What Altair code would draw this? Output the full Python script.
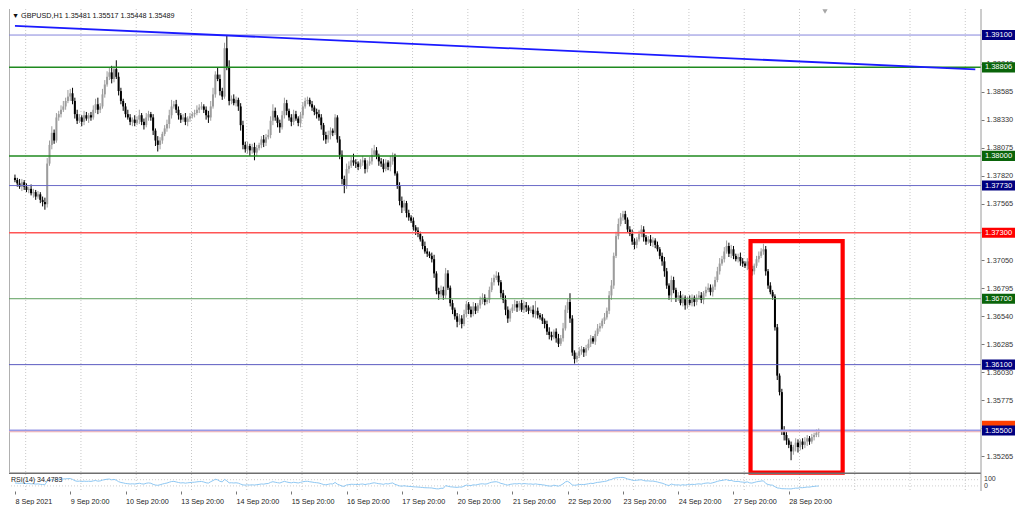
import json
import altair as alt
import pandas as pd

# ---------------- data ----------------
first_open = 1.3780
closes = [
    1.3778, 1.3775, 1.3772, 1.3776, 1.3772, 1.3769, 1.3770, 1.3766, 1.3767, 1.3763,
    1.3765, 1.3760, 1.3758, 1.3756, 1.3793, 1.3810, 1.3821, 1.3814, 1.3835, 1.3838,
    1.3842, 1.3845, 1.3850, 1.3854, 1.3857, 1.3850, 1.3838, 1.3832, 1.3835, 1.3831,
    1.3837, 1.3834, 1.3837, 1.3835, 1.3842, 1.3847, 1.3842, 1.3845, 1.3856, 1.3865,
    1.3872, 1.3876, 1.3870, 1.3879, 1.3872, 1.3859, 1.3850, 1.3845, 1.3838, 1.3835,
    1.3831, 1.3833, 1.3830, 1.3833, 1.3837, 1.3831, 1.3828, 1.3835, 1.3838, 1.3835,
    1.3823, 1.3814, 1.3810, 1.3814, 1.3820, 1.3825, 1.3829, 1.3837, 1.3845, 1.3847,
    1.3842, 1.3837, 1.3833, 1.3835, 1.3831, 1.3834, 1.3836, 1.3838, 1.3839, 1.3842,
    1.3844, 1.3845, 1.3842, 1.3837, 1.3835, 1.3845, 1.3856, 1.3874, 1.3870, 1.3859,
    1.3854, 1.3898, 1.3881, 1.3850, 1.3852, 1.3848, 1.3851, 1.3845, 1.3828, 1.3810,
    1.3806, 1.3809, 1.3805, 1.3808, 1.3803, 1.3807, 1.3810, 1.3815, 1.3812, 1.3817,
    1.3819, 1.3832, 1.3841, 1.3835, 1.3830, 1.3826, 1.3837, 1.3848, 1.3841, 1.3835,
    1.3831, 1.3838, 1.3834, 1.3830, 1.3837, 1.3845, 1.3850, 1.3851, 1.3847, 1.3844,
    1.3840, 1.3838, 1.3835, 1.3828, 1.3819, 1.3815, 1.3819, 1.3823, 1.3821, 1.3835,
    1.3815, 1.3801, 1.3779, 1.3773, 1.3788, 1.3791, 1.3796, 1.3794, 1.3793, 1.3790,
    1.3794, 1.3796, 1.3788, 1.3793, 1.3795, 1.3801, 1.3805, 1.3800, 1.3795, 1.3793,
    1.3788, 1.3794, 1.3790, 1.3795, 1.3799, 1.3784, 1.3773, 1.3759, 1.3753, 1.3757,
    1.3748, 1.3744, 1.3741, 1.3735, 1.3732, 1.3729, 1.3724, 1.3718, 1.3713, 1.3711,
    1.3709, 1.3706, 1.3693, 1.3677, 1.3674, 1.3678, 1.3673, 1.3693, 1.3680, 1.3666,
    1.3660, 1.3654, 1.3649, 1.3652, 1.3647, 1.3656, 1.3665, 1.3660, 1.3656, 1.3663,
    1.3659, 1.3664, 1.3669, 1.3671, 1.3667, 1.3669, 1.3678, 1.3685, 1.3689, 1.3691,
    1.3685, 1.3675, 1.3669, 1.3660, 1.3652, 1.3659, 1.3662, 1.3665, 1.3662, 1.3666,
    1.3660, 1.3664, 1.3662, 1.3659, 1.3660, 1.3656, 1.3659, 1.3655, 1.3653, 1.3650,
    1.3647, 1.3640, 1.3637, 1.3635, 1.3640, 1.3634, 1.3629, 1.3634, 1.3643, 1.3660,
    1.3667, 1.3652, 1.3621, 1.3615, 1.3618, 1.3622, 1.3624, 1.3621, 1.3625, 1.3629,
    1.3634, 1.3631, 1.3638, 1.3643, 1.3645, 1.3650, 1.3653, 1.3659, 1.3673, 1.3682,
    1.3709, 1.3727, 1.3738, 1.3744, 1.3747, 1.3742, 1.3733, 1.3729, 1.3722, 1.3719,
    1.3724, 1.3729, 1.3733, 1.3726, 1.3722, 1.3724, 1.3721, 1.3723, 1.3719, 1.3715,
    1.3709, 1.3704, 1.3695, 1.3682, 1.3673, 1.3687, 1.3678, 1.3671, 1.3673, 1.3666,
    1.3671, 1.3664, 1.3669, 1.3666, 1.3671, 1.3667, 1.3671, 1.3673, 1.3669, 1.3675,
    1.3678, 1.3680, 1.3676, 1.3681, 1.3687, 1.3695, 1.3702, 1.3706, 1.3713, 1.3718,
    1.3711, 1.3715, 1.3709, 1.3706, 1.3708, 1.3704, 1.3702, 1.3700, 1.3704, 1.3697,
    1.3695, 1.3700, 1.3706, 1.3709, 1.3713, 1.3715, 1.3695, 1.3682, 1.3676, 1.3672,
    1.3644, 1.3600, 1.3585, 1.3550, 1.3546, 1.3541, 1.3537, 1.3531, 1.3535, 1.3539,
    1.3535, 1.3540, 1.3537, 1.3540, 1.3543, 1.3540, 1.3544, 1.3546, 1.3548, 1.35489,
]
upper_wick_pips = [
    3, 2, 4, 3, 2, 3, 2, 4, 3, 2,  3, 2, 3, 4, 5, 4, 6, 3, 4, 3,
    4, 5, 3, 6, 4, 5, 3, 4, 3, 2,  4, 3, 2, 3, 4, 5, 6, 3, 5, 4,
    5, 4, 6, 3, 8, 4, 3, 2, 3, 4,  3, 2, 4, 3, 5, 2, 3, 4, 3, 2,
    3, 2, 4, 3, 2, 3, 4, 5, 6, 3,  4, 3, 2, 3, 4, 2, 3, 2, 3, 4,
    3, 4, 2, 3, 4, 5, 6, 3, 6, 4,  3, 5, 12, 6, 3, 4, 3, 2, 3, 4,
    3, 4, 2, 3, 4, 3, 2, 3, 4, 3,  5, 4, 6, 3, 2, 3, 4, 5, 3, 2,
    3, 4, 3, 2, 3, 4, 3, 3, 2, 3,  2, 3, 4, 3, 2, 3, 4, 3, 2, 3,
    2, 3, 4, 3, 5, 4, 3, 6, 3, 2,  3, 4, 2, 3, 4, 6, 5, 3, 2, 3,
    4, 3, 2, 5, 4, 3, 2, 3, 4, 3,  2, 3, 2, 3, 2, 3, 2, 3, 4, 3,
    2, 3, 4, 2, 3, 4, 3, 5, 3, 2,  3, 2, 3, 4, 3, 4, 3, 2, 3, 4,
    3, 2, 3, 4, 3, 2, 3, 4, 3, 4,  3, 2, 3, 4, 3, 2, 3, 4, 3, 2,
    3, 4, 3, 2, 3, 4, 9, 3, 2, 3,  2, 3, 4, 3, 2, 3, 4, 3, 5, 4,
    3, 8, 3, 2, 3, 4, 3, 2, 3, 4,  3, 2, 3, 4, 3, 2, 4, 3, 4, 5,
    3, 4, 5, 4, 3, 3, 2, 3, 4, 3,  2, 3, 4, 3, 2, 3, 4, 3, 2, 3,
    2, 3, 4, 3, 2, 4, 3, 2, 3, 4,  3, 2, 3, 4, 3, 2, 3, 4, 3, 2,
    3, 4, 3, 2, 3, 4, 5, 3, 4, 5,  3, 4, 3, 2, 3, 4, 3, 2, 3, 4,
    3, 2, 3, 4, 3, 5, 3, 2, 3, 2,  2, 3, 2, 3, 4, 3, 2, 3, 2, 4,
    3, 2, 3, 4, 3, 2, 3, 2, 3, 3,
]
lower_wick_pips = [
    2, 3, 2, 4, 3, 2, 3, 2, 4, 3,  2, 3, 4, 5, 3, 2, 4, 3, 2, 3,
    3, 2, 3, 2, 4, 3, 4, 3, 2, 4,  3, 2, 4, 3, 2, 3, 4, 3, 2, 3,
    2, 3, 4, 3, 2, 4, 3, 4, 3, 2,  3, 4, 3, 2, 4, 3, 4, 2, 3, 3,
    4, 5, 6, 4, 3, 2, 3, 4, 3, 2,  3, 4, 3, 2, 3, 4, 3, 2, 3, 2,
    3, 2, 3, 4, 5, 3, 2, 3, 2, 4,  3, 2, 3, 4, 3, 2, 3, 4, 5, 4,
    3, 4, 5, 3, 7, 3, 2, 3, 4, 3,  2, 3, 4, 3, 4, 5, 2, 3, 4, 3,
    4, 3, 2, 3, 4, 3, 2, 3, 2, 3,  3, 4, 3, 4, 5, 4, 3, 4, 3, 2,
    3, 4, 5, 7, 3, 4, 2, 3, 4, 3,  2, 3, 4, 3, 2, 3, 2, 3, 4, 3,
    3, 2, 3, 4, 3, 2, 3, 4, 5, 3,  4, 3, 2, 3, 4, 3, 2, 3, 2, 3,
    2, 3, 4, 3, 5, 3, 4, 3, 2, 3,  4, 3, 5, 3, 4, 2, 3, 4, 3, 2,
    3, 2, 3, 4, 3, 2, 3, 2, 3, 2,  3, 4, 3, 5, 4, 3, 2, 3, 4, 3,
    2, 3, 4, 3, 2, 3, 4, 3, 2, 3,  4, 3, 4, 3, 2, 4, 3, 2, 3, 2,
    3, 4, 3, 4, 3, 2, 3, 4, 3, 2,  3, 2, 3, 2, 3, 2, 3, 2, 3, 4,
    3, 2, 3, 2, 3, 4, 3, 2, 3, 4,  3, 2, 3, 4, 3, 2, 3, 4, 3, 2,
    3, 4, 5, 3, 4, 6, 3, 4, 3, 2,  3, 4, 3, 2, 3, 4, 3, 2, 3, 4,
    3, 2, 3, 4, 3, 2, 3, 2, 3, 2,  3, 4, 3, 2, 3, 4, 3, 2, 4, 3,
    4, 3, 2, 3, 2, 3, 4, 3, 2, 3,  3, 4, 3, 4, 5, 4, 3, 8, 3, 4,
    5, 3, 4, 3, 4, 3, 2, 3, 2, 4,
]

date_labels = ["8 Sep 2021", "9 Sep 20:00", "10 Sep 20:00", "13 Sep 20:00",
               "14 Sep 20:00", "15 Sep 20:00", "16 Sep 20:00", "17 Sep 20:00",
               "20 Sep 20:00", "21 Sep 20:00", "22 Sep 20:00", "23 Sep 20:00",
               "24 Sep 20:00", "27 Sep 20:00", "28 Sep 20:00"]
bars_per_label = 24
price_ticks = [1.38840, 1.38585, 1.38330, 1.38075, 1.37820, 1.37565, 1.37310,
               1.37050, 1.36795, 1.36540, 1.36285, 1.36030, 1.35775, 1.35520, 1.35265]

levels = [1.39100, 1.38806, 1.38000, 1.37730, 1.37300, 1.36700, 1.36100, 1.35500]
level_labels = ["1.39100", "1.38806", "1.38000", "1.37730", "1.37300", "1.36700", "1.36100", "1.35500"]
level_line_colors = ["#8585dc", "#1f8a1f", "#1f8a1f", "#6a6ac8", "#ff5555", "#5c9e5c", "#5b5bc0", "#9a9ae6"]
level_line_widths = [1, 1.5, 1.5, 1, 1.5, 1, 1, 2]
level_box_colors = ["#000080", "#0a640a", "#0a640a", "#000080", "#ff0000", "#0a640a", "#000080", "#000080"]
bid_price = 1.35489
bid_label_price = 1.35545

trend_index = [0, 417]
trend_price = [1.39184, 1.38787]
box_index = [319.4, 359.4]
box_price = [1.37225, 1.35118]

title_text = "\u25bc GBPUSD,H1  1.35481 1.35517 1.35448 1.35489"
rsi_label = "RSI(14) 34.4783"
rsi_period = 14
rsi_levels = [70, 30]
rsi_scale_text = ["100", "0"]

# ---------------- layout ----------------
W, H = 972, 482
MAIN_H = 463.2
RSI_RANGE = [481.6, 466.0]
XDOM = [-0.42, 417.3]
YDOM = [1.35121, 1.39337]
FONT = "Liberation Sans"
BOX_L, BOX_R = W + 1, W + 34

n = min(len(closes), len(upper_wick_pips), len(lower_wick_pips))
opens = [first_open] + closes[:n - 1]
rows = []
for k in range(n):
    o, c = opens[k], closes[k]
    rows.append({
        "i": k, "open": o, "close": c,
        "high": max(o, c) + upper_wick_pips[k] * 1e-4,
        "low": min(o, c) - lower_wick_pips[k] * 1e-4,
        "dir": "up" if c >= o else "down",
    })
candles = pd.DataFrame(rows)

# RSI(14), Wilder smoothing of the closes above
rsi_vals = []
ag = al = 0.0004
prev = first_open
for c in closes[:n]:
    d = c - prev
    ag = (ag * (rsi_period - 1) + max(d, 0)) / rsi_period
    al = (al * (rsi_period - 1) + max(-d, 0)) / rsi_period
    rsi_vals.append(100 - 100 / (1 + ag / al) if al > 0 else 100.0)
    prev = c
rsi_df = pd.DataFrame({"i": list(range(n)), "rsi": rsi_vals})

xs = alt.Scale(domain=XDOM, nice=False, zero=False)
ys = alt.Scale(domain=YDOM, range=[MAIN_H, 0], nice=False, zero=False)
rs = alt.Scale(domain=[0, 100], range=RSI_RANGE, nice=False, zero=False)

label_expr = "%s[round(datum.value/%d)]" % (json.dumps(date_labels), bars_per_label)
x_axis = alt.Axis(values=[k * bars_per_label for k in range(len(date_labels))],
                  labelExpr=label_expr, orient="bottom", title=None, grid=False,
                  domain=False, tickSize=3, tickColor="#777", labelAlign="left",
                  labelBaseline="top", labelPadding=3, labelFontSize=7.2,
                  labelFont=FONT, labelColor="#222", labelOverlap=False,
                  labelFlush=False, labelBound=False)
y_axis = alt.Axis(values=price_ticks, format=".5f", orient="right", title=None,
                  grid=False, domain=False, tickSize=3, tickColor="#777",
                  labelFontSize=7.4, labelFont=FONT, labelColor="#333",
                  labelPadding=2, labelOverlap=False, labelFlush=False)


def X(field):
    return alt.X(field, scale=xs, axis=x_axis)


def Y(field):
    return alt.Y(field, scale=ys, axis=y_axis)


def R(field):
    return alt.Y(field, scale=rs, axis=None)


one = pd.DataFrame({"t": [title_text]})

grid_df = pd.DataFrame({"i": [4.65 + bars_per_label * k for k in range(18)]})
grid = alt.Chart(grid_df).mark_rule(color="#c8c8c8", strokeDash=[1, 2], strokeWidth=1).encode(
    x=X("i:Q"), y=alt.value(0), y2=alt.value(H))

wicks = alt.Chart(candles).mark_rule(strokeWidth=1).encode(
    x=X("i:Q"), y=Y("low:Q"), y2="high:Q",
    color=alt.Color("dir:N", scale=alt.Scale(domain=["up", "down"], range=["#9c9c9c", "#000000"]), legend=None))

bodies = alt.Chart(candles).mark_bar(size=2).encode(
    x=X("i:Q"), y=Y("open:Q"), y2="close:Q",
    color=alt.Color("dir:N", scale=alt.Scale(domain=["up", "down"], range=["#bdbdbd", "#000000"]), legend=None))

lv = pd.DataFrame({"level": levels, "label": level_labels, "lc": level_line_colors,
                   "lw": level_line_widths, "bc": level_box_colors})
lv["top"] = lv["level"] + 0.00046
lv["bot"] = lv["level"] - 0.00046

level_rules = alt.Chart(lv).mark_rule().encode(
    y=Y("level:Q"),
    color=alt.Color("lc:N", scale=None),
    strokeWidth=alt.StrokeWidth("lw:Q", scale=None))

bid_df = pd.DataFrame({"p": [bid_price], "lp": [bid_label_price]})
bid_rule = alt.Chart(bid_df).mark_rule(color="#f3b0b0", strokeWidth=1).encode(y=Y("p:Q"))
bid_box = alt.Chart(bid_df).transform_calculate(
    a="datum.lp + 0.00044", b="datum.lp - 0.00044").mark_rect(color="#ff4000").encode(
    x=alt.value(BOX_L), x2=alt.value(BOX_R), y=Y("a:Q"), y2="b:Q")

trend_df = pd.DataFrame({"i": trend_index, "p": trend_price})
trend = alt.Chart(trend_df).mark_line(color="#1a1aff", strokeWidth=1.8).encode(
    x=X("i:Q"), y=Y("p:Q"))

box_df = pd.DataFrame({"x1": [box_index[0]], "x2": [box_index[1]],
                       "p1": [box_price[0]], "p2": [box_price[1]]})
red_box = alt.Chart(box_df).mark_rect(fillOpacity=0, stroke="#ff0000", strokeWidth=4.2).encode(
    x=X("x1:Q"), x2="x2:Q", y=Y("p1:Q"), y2="p2:Q")

level_boxes = alt.Chart(lv).mark_rect().encode(
    x=alt.value(BOX_L), x2=alt.value(BOX_R), y=Y("top:Q"), y2="bot:Q",
    color=alt.Color("bc:N", scale=None))
level_texts = alt.Chart(lv).mark_text(color="white", fontSize=7.5, font=FONT,
                                      align="center", baseline="middle").encode(
    x=alt.value((BOX_L + BOX_R) / 2), y=Y("level:Q"), text="label:N")

separator = alt.Chart(one).mark_rule(color="#6e6e6e", strokeWidth=1.5).encode(
    x=alt.value(0), x2=alt.value(W), y=alt.value(MAIN_H + 1))
right_edge = alt.Chart(one).mark_rule(color="#9a9a9a", strokeWidth=1).encode(
    x=alt.value(W), y=alt.value(0), y2=alt.value(H))
left_edge = alt.Chart(one).mark_rule(color="#b0b0b0", strokeWidth=1).encode(
    x=alt.value(0.5), y=alt.value(0), y2=alt.value(MAIN_H))

title = alt.Chart(one).mark_text(align="left", baseline="middle", fontSize=7.2,
                                 font=FONT, color="#111").encode(
    x=alt.value(3), y=alt.value(6.8), text="t:N")
shift_marker = alt.Chart(one).mark_point(shape="triangle-down", filled=True, size=28,
                                         color="#a6a6a6", opacity=1).encode(
    x=alt.value(816), y=alt.value(2.5))

main_group = alt.layer(grid, left_edge, wicks, bodies, level_rules, bid_rule, trend,
                       red_box, bid_box, level_boxes, level_texts, separator,
                       right_edge, title, shift_marker)

rsi_lv = pd.DataFrame({"v": rsi_levels})
rsi_level_rules = alt.Chart(rsi_lv).mark_rule(color="#cfcfcf", strokeDash=[1, 2]).encode(
    y=R("v:Q"))
rsi_line = alt.Chart(rsi_df).mark_line(color="#8fc8f3", strokeWidth=1).encode(
    x=X("i:Q"), y=R("rsi:Q"))
rsi_text = alt.Chart(pd.DataFrame({"t": [rsi_label]})).mark_text(
    align="left", baseline="middle", fontSize=7, font=FONT, color="#222").encode(
    x=alt.value(2), y=alt.value(470.5), text="t:N")
rsi_scale_lbl = alt.Chart(pd.DataFrame({"t": rsi_scale_text, "yy": [469.5, 476.5]})).mark_text(
    align="left", baseline="middle", fontSize=7, font=FONT, color="#333").encode(
    x=alt.value(W + 3), y=alt.Y("yy:Q", scale=None, axis=None), text="t:N")
rsi_group = alt.layer(rsi_level_rules, rsi_line, rsi_text, rsi_scale_lbl)

chart = alt.layer(main_group, rsi_group).resolve_scale(y="independent").properties(
    width=W, height=H, padding=0, background="white"
).configure_view(stroke=None)

chart.save("out.html", embed_options={"renderer": "svg", "actions": False})
